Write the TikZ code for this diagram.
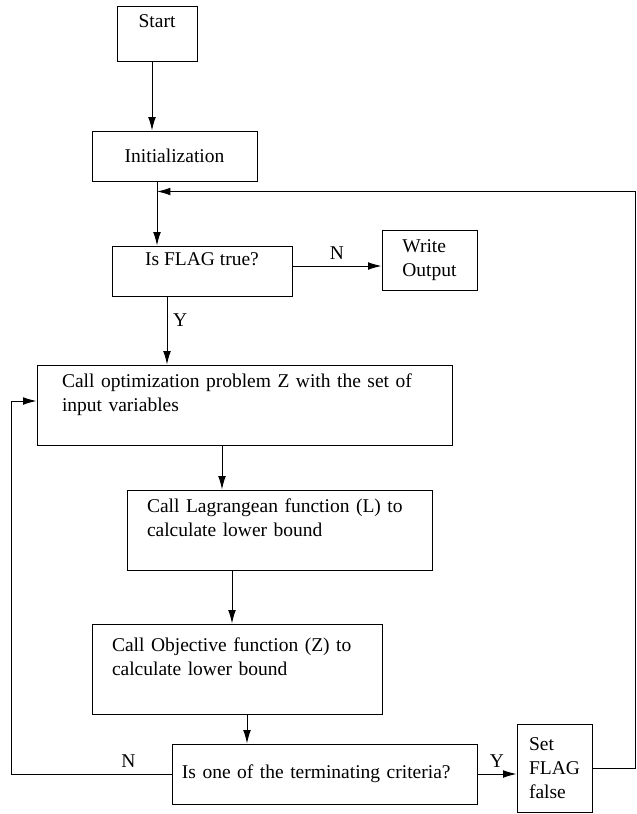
\documentclass[tikz,border=0pt]{standalone}
\usepackage{fontspec}
\setmainfont{Liberation Serif}
\usepackage{tikz}
\usetikzlibrary{arrows.meta}
\tikzstyle{process} = [rectangle, draw=black, line width=0.6pt, inner ysep=0pt, align=left]
\tikzstyle{centred} = [process, align=center]
\tikzstyle{arrow} = [line width=0.6pt, -{Latex[length=8pt,width=4.6pt]}]

\begin{document}
\begin{tikzpicture} [node distance=75pt, font=\fontsize{11.7}{14.4}\selectfont]
        \useasboundingbox (0,0) rectangle (382.2pt,-488.4pt);
        \node (start) [centred, minimum width=48pt, minimum height=33pt] at (94.2pt,-20.1pt) {Start\\~};
        \node (init) [centred, below of=start, xshift=10.5pt, yshift=1.5pt, minimum width=99pt, minimum height=30pt] {Initialization};
        \node (flag) [centred, below of=init, xshift=16.5pt, yshift=6pt, minimum width=108pt, minimum height=30pt] {Is FLAG true?\\~};
        \node (write) [process, right of=flag, xshift=61.5pt, yshift=6.6pt, minimum width=57pt, minimum height=36pt] {Write\\Output};
        \node (opt) [process, below of=flag, xshift=25.5pt, yshift=-5.4pt, text width=219pt, inner xsep=15pt, minimum height=48pt] {Call optimization problem Z with the set of\\input variables\\~};
        \node (lagr) [process, below of=opt, xshift=21pt, text width=159pt, inner xsep=12pt, minimum height=48pt] {Call Lagrangean function (L) to\\calculate lower bound\\~};
        \node (obj) [process, below of=lagr, xshift=-25.5pt, yshift=-8.4pt, text width=150pt, inner xsep=12pt, minimum height=54pt] {Call Objective function (Z) to\\calculate lower bound\\~};
        \node (term) [process, below of=obj, xshift=52.5pt, yshift=12pt, text width=171pt, inner xsep=6pt, minimum height=36pt] {Is one of the terminating criteria?};
        \node (set) [process, right of=term, xshift=63pt, yshift=3.6pt, minimum width=45pt, minimum height=52.8pt] {Set\\FLAG\\false};
        \coordinate (merge) at ([xshift=-10.5pt, yshift=-6pt]init.south);

        \draw[arrow] ([xshift=-3pt]start.south) -- ([xshift=-3pt]start.south |- init.north);
        \draw[arrow] ([xshift=-10.5pt]init.south) -- ([xshift=-10.5pt]init.south |- flag.north);
        \draw[arrow] ([yshift=3pt]flag.east) -- node[above] {N} ([yshift=3pt]flag.east -| write.west);
        \draw[arrow] ([xshift=-21pt]flag.south) -- node[right, pos=0.35] {Y} ([xshift=-21pt]flag.south |- opt.north);
        \draw[arrow] ([xshift=-13.5pt]opt.south) -- ([xshift=-13.5pt]opt.south |- lagr.north);
        \draw[arrow] ([xshift=-28.5pt]lagr.south) -- ([xshift=-28.5pt]lagr.south |- obj.north);
        \draw[arrow] ([xshift=6pt]obj.south) -- ([xshift=6pt]obj.south |- term.north);
        \draw[arrow] (term.east) -- node[above] {Y} (term.east -| set.west);
        \draw[arrow] (term.west) -- node[above, pos=0.27] {N} ++(-96pt,0) |- ([yshift=2.4pt]opt.west);
        \draw[arrow] (set.east) -- ++(25.8pt,0) |- (merge);
    \end{tikzpicture}
\end{document}
